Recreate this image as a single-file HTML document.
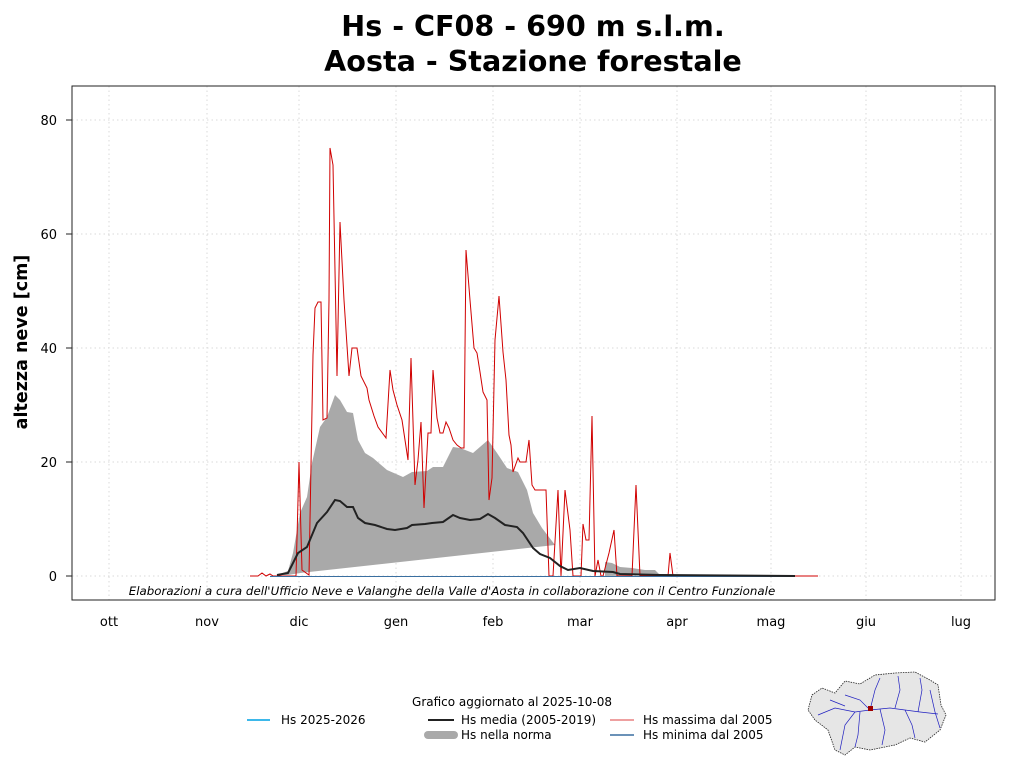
<!DOCTYPE html>
<html><head><meta charset="utf-8"><style>
html,body{margin:0;padding:0;background:#fff;}
svg{display:block;font-family:"DejaVu Sans","Liberation Sans",sans-serif;}
</style></head><body>
<svg width="1024" height="768" viewBox="0 0 1024 768" xmlns="http://www.w3.org/2000/svg">
<text x="533" y="36" font-size="28.6" font-weight="bold" text-anchor="middle">Hs - CF08 - 690 m s.l.m.</text>
<text x="533" y="71" font-size="28.6" font-weight="bold" text-anchor="middle">Aosta - Stazione forestale</text>
<g stroke="#d9d9d9" stroke-dasharray="1.5,3" stroke-width="1">
<line x1="72" x2="995" y1="576" y2="576"/><line x1="72" x2="995" y1="462" y2="462"/><line x1="72" x2="995" y1="348" y2="348"/><line x1="72" x2="995" y1="234" y2="234"/><line x1="72" x2="995" y1="120" y2="120"/>
<line x1="109" x2="109" y1="86" y2="600"/><line x1="207" x2="207" y1="86" y2="600"/><line x1="299" x2="299" y1="86" y2="600"/><line x1="396" x2="396" y1="86" y2="600"/><line x1="493" x2="493" y1="86" y2="600"/><line x1="580" x2="580" y1="86" y2="600"/><line x1="677" x2="677" y1="86" y2="600"/><line x1="771" x2="771" y1="86" y2="600"/><line x1="866" x2="866" y1="86" y2="600"/><line x1="961" x2="961" y1="86" y2="600"/>
</g>
<polygon fill="#a9a9a9" points="277,575 288,571 293,553 300,513 307,497 312,463 320,427 327,417 335,395 340,400 347,412 353,413 358,440 365,453 373,458 387,470 403,477 412,472 427,471 433,467 443,467 453,447 460,448 473,453 488,440 497,453 507,468 518,472 527,490 533,513 542,528 555,545 300,573 288,575"/>
<polygon fill="#a9a9a9" points="605,576 605,562 612,563 620,567 632,568 645,570 655,570 660,575"/>
<polyline fill="none" stroke="#d00000" stroke-width="1" points="250,576 258,576 262,573 266,576 270,574 273,576 288,576 296,576 299,462 302,570 309,575 313,355 315,308 318,302 321,302 323,420 327,418 329,300 330,148 333,165 337,376 340,222 344,300 349,376 352,348 357,348 361,376 367,388 369,400 374,416 378,427 386,438 390,370 393,390 397,405 402,420 405,440 408,460 411,358 415,485 418,460 421,422 424,508 428,433 431,433 433,370 437,418 440,433 443,433 446,422 449,428 453,440 457,445 461,448 464,448 466,250 470,300 474,348 477,353 480,372 483,392 487,400 489,500 492,478 495,340 499,296 503,352 506,380 509,435 511,445 513,472 518,458 520,462 526,462 529,440 532,485 535,490 546,490 549,576 553,576 558,490 561,576 565,490 570,530 573,576 581,576 583,524 586,540 589,540 592,416 595,576 598,560 601,576 603,576 609,553 614,530 617,576 632,576 636,485 640,576 668,576 670,553 673,576 818,576"/>
<line x1="270" x2="795" y1="576.5" y2="576.5" stroke="#3a6fa0" stroke-width="1"/>
<polyline fill="none" stroke="#222" stroke-width="2" points="277,575 288,573 298,553 307,547 317,523 327,512 335,500 340,501 347,507 353,507 358,518 365,523 375,525 387,529 395,530 407,528 412,525 425,524 432,523 443,522 453,515 460,518 470,520 480,519 488,514 495,518 505,525 517,527 523,533 533,548 540,554 550,558 560,566 568,570 580,568 593,571 613,572 620,574 660,575 795,576"/>
<rect x="72" y="86" width="923" height="514" fill="none" stroke="#222" stroke-width="1"/>
<g font-size="13" text-anchor="end">
<text x="57" y="581">0</text><text x="57" y="467">20</text><text x="57" y="353">40</text><text x="57" y="239">60</text><text x="57" y="125">80</text>
</g>
<g stroke="#222"><line x1="66" x2="72" y1="576" y2="576"/><line x1="66" x2="72" y1="462" y2="462"/><line x1="66" x2="72" y1="348" y2="348"/><line x1="66" x2="72" y1="234" y2="234"/><line x1="66" x2="72" y1="120" y2="120"/></g>
<g font-size="13" text-anchor="middle">
<text x="109" y="626">ott</text><text x="207" y="626">nov</text><text x="299" y="626">dic</text><text x="396" y="626">gen</text><text x="493" y="626">feb</text><text x="580" y="626">mar</text><text x="677" y="626">apr</text><text x="771" y="626">mag</text><text x="866" y="626">giu</text><text x="961" y="626">lug</text>
</g>
<text transform="translate(27,342) rotate(-90)" font-size="17.5" font-weight="bold" text-anchor="middle">altezza neve [cm]</text>
<text x="452" y="595" font-size="11.85" font-style="italic" text-anchor="middle">Elaborazioni a cura dell'Ufficio Neve e Valanghe della Valle d'Aosta in collaborazione con il Centro Funzionale</text>
<g font-size="12">
<text x="512" y="706" text-anchor="middle">Grafico aggiornato al 2025-10-08</text>
<line x1="247" x2="270" y1="720" y2="720" stroke="#3db8ea" stroke-width="2"/><text x="281" y="724">Hs 2025-2026</text>
<line x1="428" x2="454" y1="720" y2="720" stroke="#222" stroke-width="2"/><text x="461" y="724">Hs media (2005-2019)</text>
<line x1="428" x2="454" y1="735" y2="735" stroke="#a9a9a9" stroke-width="8" stroke-linecap="round"/><text x="461" y="739">Hs nella norma</text>
<line x1="610" x2="634" y1="720" y2="720" stroke="#e88080" stroke-width="1.5"/><text x="643" y="724">Hs massima dal 2005</text>
<line x1="610" x2="634" y1="735" y2="735" stroke="#3a6fa0" stroke-width="1.5"/><text x="643" y="739">Hs minima dal 2005</text>
</g>
<polygon fill="#e6e6e6" stroke="#222" stroke-width="0.8" stroke-dasharray="1.5,1" points="812,695 822,688 835,693 845,681 860,684 875,675 895,673 915,672 930,680 938,685 941,705 946,715 940,730 925,742 910,738 895,745 870,750 855,747 845,755 835,750 828,730 815,720 808,710"/>
<g fill="none" stroke="#2020c0" stroke-width="0.7">
<polyline points="818,715 835,708 855,712 870,710 890,708 905,710 920,712 938,714"/>
<polyline points="855,712 845,725 840,750"/><polyline points="860,712 858,735 855,747"/>
<polyline points="880,709 885,730 882,745"/><polyline points="905,710 912,725 915,738"/>
<polyline points="870,710 875,690 880,678"/><polyline points="895,708 900,690 898,676"/>
<polyline points="918,712 922,690 920,678"/><polyline points="830,700 845,706"/>
<polyline points="930,690 935,712 940,728"/><polyline points="845,695 860,700 868,708"/>
</g>
<rect x="868" y="706" width="5" height="5" fill="#a00000"/>
</svg>
</body></html>
